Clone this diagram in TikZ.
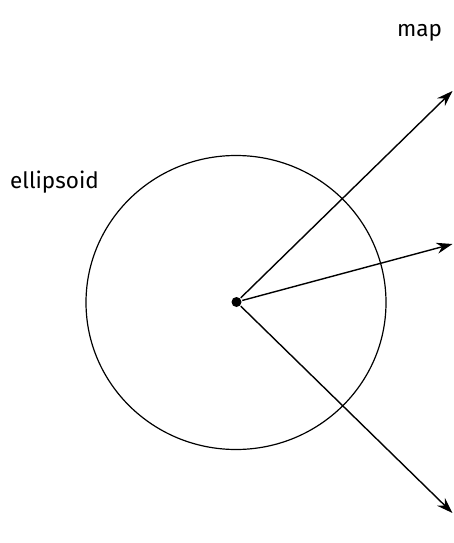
\documentclass[tikz,border=0pt]{standalone}
\usepackage{fontspec}
\setmainfont{Fira Sans}
\usetikzlibrary{arrows.meta}
\begin{document}
\begin{tikzpicture}[x=1pt,y=-1pt,
  lbl/.style={inner sep=0pt, font=\fontsize{22.5}{26}\selectfont},
  ray/.style={line width=1.4pt, shorten <=6pt, -{Stealth[length=16pt,width=11pt]}}]
\useasboundingbox (0,0) rectangle (453,543);
\draw[line width=1.2pt] (236,302.5) ellipse [x radius=150, y radius=147];
\node[circle, fill=black, inner sep=0pt, minimum size=10pt] (c) at (236.5,302) {};
\coordinate (t1) at (452.5,91);
\coordinate (t2) at (452.5,244);
\coordinate (t3) at (452.5,513);
\draw[ray] (c.center) -- (t1);
\draw[ray] (c.center) -- (t2);
\draw[ray] (c.center) -- (t3);
\node[lbl, anchor=base west] (ell) at (10,188) {ellipsoid};
\node[lbl, anchor=base west] (map) at (397,37) {map};
\end{tikzpicture}
\end{document}
